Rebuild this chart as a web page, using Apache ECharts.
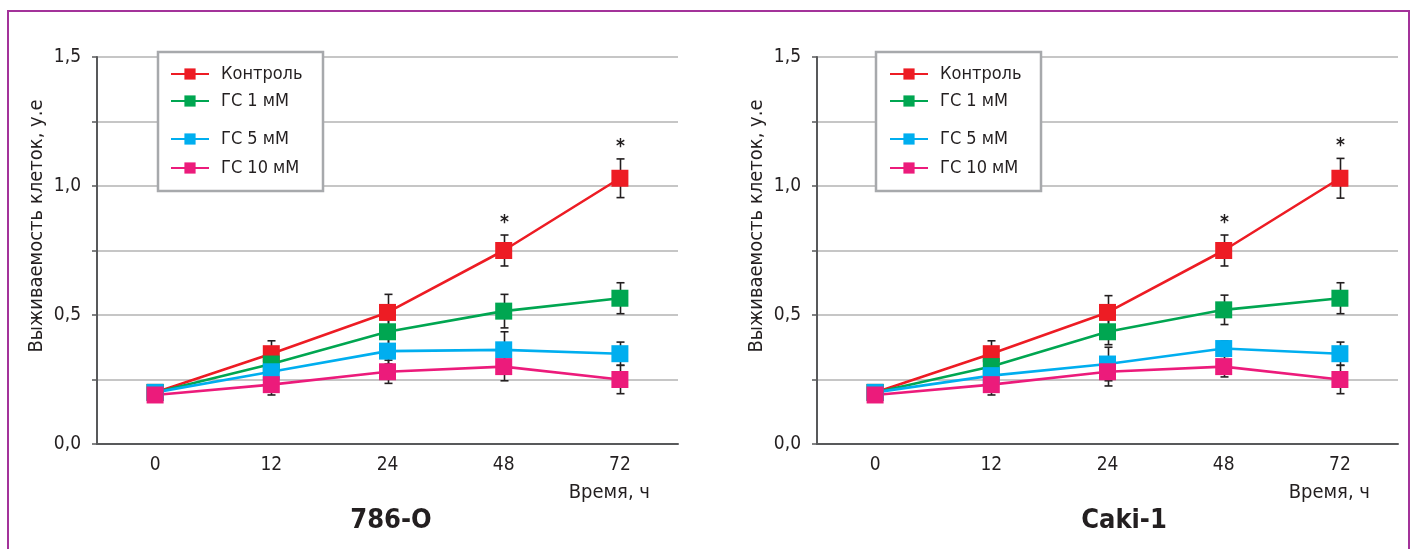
<!DOCTYPE html>
<html>
<head>
<meta charset="utf-8">
<script src="https://cdn.jsdelivr.net/npm/echarts@6/dist/echarts.min.js"></script>
<style>
  html, body { margin: 0; padding: 0; background: #fff; }
  #chart { width: 1413px; height: 549px; }
</style>
</head>
<body>
<div id="chart"></div>
<script>
  // категории по оси X (время, ч)
  const categories = ['0', '12', '24', '48', '72']
  const names = ['Контроль', 'ГС 1 мМ', 'ГС 5 мМ', 'ГС 10 мМ']
  const colors = ['#ed1c24', '#00a651', '#00aeef', '#ec1b7b']
  const stars = ['', '', '', '*', '*'] // достоверность для контроля

  // 786-O
  const ctrl786 = [0.2, 0.35, 0.51, 0.75, 1.03]
  const gs1_786 = [0.2, 0.31, 0.435, 0.515, 0.565]
  const gs5_786 = [0.2, 0.28, 0.36, 0.365, 0.35]
  const gs10_786 = [0.19, 0.23, 0.28, 0.30, 0.25]
  const ctrl786Err = [0, 0.05, 0.07, 0.06, 0.075]
  const gs1_786Err = [0, 0.03, 0.06, 0.065, 0.06]
  const gs5_786Err = [0, 0.02, 0.05, 0.07, 0.045]
  const gs10_786Err = [0, 0.04, 0.045, 0.055, 0.055]

  // Caki-1
  const ctrlCaki = [0.2, 0.35, 0.51, 0.75, 1.03]
  const gs1Caki = [0.2, 0.3, 0.435, 0.52, 0.565]
  const gs5Caki = [0.2, 0.265, 0.31, 0.37, 0.35]
  const gs10Caki = [0.19, 0.23, 0.28, 0.3, 0.25]
  const ctrlCakiErr = [0, 0.05, 0.065, 0.06, 0.077]
  const gs1CakiErr = [0, 0.03, 0.05, 0.057, 0.06]
  const gs5CakiErr = [0, 0.02, 0.065, 0.03, 0.045]
  const gs10CakiErr = [0, 0.04, 0.055, 0.04, 0.055]

  const FONT = "'Liberation Sans Narrow', 'DejaVu Sans Condensed', sans-serif"
  const TXT = '#231f20'

  function lineSeries (name, data, color, idx) {
    return {
      type: 'line',
      name: name,
      xAxisIndex: idx,
      yAxisIndex: idx,
      data: data,
      symbol: 'rect',
      symbolSize: 17,
      lineStyle: { width: 2.6, color: color },
      itemStyle: { color: color },
      z: 3,
      animation: false
    }
  }

  function errSeries (vals, errs, idx, withStars) {
    return {
      type: 'custom',
      xAxisIndex: idx,
      yAxisIndex: idx,
      silent: true,
      z: 2,
      animation: false,
      data: vals.map((v, i) => [i, v, errs[i]]),
      renderItem: function (params, api) {
        let i = api.value(0)
        let v = api.value(1)
        let e = api.value(2)
        let children = []
        if (e) {
          let top = api.coord([i, v + e])
          let bot = api.coord([i, v - e])
          let x = Math.round(top[0]) + 0.5
          let st = { stroke: '#231f20', lineWidth: 1.6 }
          children.push({ type: 'line', shape: { x1: x, y1: top[1], x2: x, y2: bot[1] }, style: st })
          children.push({ type: 'line', shape: { x1: x - 4, y1: top[1], x2: x + 4, y2: top[1] }, style: st })
          children.push({ type: 'line', shape: { x1: x - 4, y1: bot[1], x2: x + 4, y2: bot[1] }, style: st })
          if (withStars && stars[params.dataIndex]) {
            children.push({
              type: 'text',
              x: x,
              y: top[1] - 12,
              style: { text: stars[params.dataIndex], fill: TXT, font: 'bold 19px ' + FONT, textAlign: 'center', textVerticalAlign: 'middle' }
            })
          }
        }
        return { type: 'group', children: children }
      }
    }
  }

  function xAxis (idx) {
    return {
      type: 'category',
      gridIndex: idx,
      data: categories,
      boundaryGap: true,
      axisLine: { lineStyle: { color: '#58595b', width: 2 } },
      axisTick: { show: false },
      axisLabel: { color: TXT, fontSize: 19, fontFamily: FONT, margin: 12 }
    }
  }

  function yAxis (idx) {
    return {
      type: 'value',
      gridIndex: idx,
      min: 0,
      max: 1.5,
      interval: 0.25,
      axisLine: { show: true, lineStyle: { color: '#58595b', width: 2 } },
      axisTick: { show: true, length: 5, lineStyle: { color: '#58595b', width: 1.5 } },
      splitLine: { lineStyle: { color: '#b3b3b3', width: 1.5 } },
      axisLabel: {
        color: TXT,
        fontSize: 19,
        fontFamily: FONT,
        margin: 16,
        formatter: function (v) {
          return (v * 2) % 1 === 0 ? v.toFixed(1).replace('.', ',') : ''
        }
      }
    }
  }

  function legend (left, top, data, gap) {
    return {
      left: left,
      top: top,
      orient: 'vertical',
      data: data,
      padding: 0,
      itemGap: gap,
      itemWidth: 38,
      itemHeight: 14,
      selectedMode: false,
      textStyle: { color: TXT, fontSize: 18, fontFamily: FONT, lineHeight: 18, padding: [0, 0, 0, 7] }
    }
  }

  function texts (boxX, axisX, title, titleX) {
    return [
      {
        type: 'rect', z: 3,
        shape: { x: boxX, y: 52, width: 165, height: 139 },
        style: { fill: '#fff', stroke: '#a7a9ac', lineWidth: 2.5 }
      },
      {
        type: 'text', x: axisX - 60, y: 226, rotation: Math.PI / 2,
        style: { text: 'Выживаемость клеток, у.е', fill: TXT, font: '20px ' + FONT, textAlign: 'center', textVerticalAlign: 'middle' }
      },
      {
        type: 'text', x: axisX + 553, y: 493,
        style: { text: 'Время, ч', fill: TXT, font: '20px ' + FONT, textAlign: 'right', textVerticalAlign: 'middle' }
      },
      {
        type: 'text', x: titleX, y: 521,
        style: { text: title, fill: TXT, font: 'bold 27px ' + FONT, textAlign: 'center', textVerticalAlign: 'middle' }
      }
    ]
  }

  let chart = echarts.init(document.getElementById('chart'))
  chart.setOption({
    backgroundColor: '#fff',
    color: colors,
    animation: false,
    grid: [
      { left: 97, top: 57, width: 581, height: 387 },
      { left: 817, top: 57, width: 581, height: 387 }
    ],
    xAxis: [xAxis(0), xAxis(1)],
    yAxis: [yAxis(0), yAxis(1)],
    legend: [
      legend(170, 65, names.slice(0, 2), 9),
      legend(170, 130, names.slice(2), 11),
      legend(889, 65, names.slice(0, 2), 9),
      legend(889, 130, names.slice(2), 11)
    ],
    graphic: [
      {
        type: 'rect', z: 10,
        shape: { x: 8, y: 11, width: 1401, height: 560 },
        style: { fill: 'none', stroke: '#a3329a', lineWidth: 2 }
      }
    ].concat(texts(158, 97, '786-O', 391), texts(876, 817, 'Caki-1', 1124)),
    series: [
      errSeries(ctrl786, ctrl786Err, 0, true),
      errSeries(gs1_786, gs1_786Err, 0, false),
      errSeries(gs5_786, gs5_786Err, 0, false),
      errSeries(gs10_786, gs10_786Err, 0, false),
      lineSeries(names[0], ctrl786, colors[0], 0),
      lineSeries(names[1], gs1_786, colors[1], 0),
      lineSeries(names[2], gs5_786, colors[2], 0),
      lineSeries(names[3], gs10_786, colors[3], 0),
      errSeries(ctrlCaki, ctrlCakiErr, 1, true),
      errSeries(gs1Caki, gs1CakiErr, 1, false),
      errSeries(gs5Caki, gs5CakiErr, 1, false),
      errSeries(gs10Caki, gs10CakiErr, 1, false),
      lineSeries(names[0], ctrlCaki, colors[0], 1),
      lineSeries(names[1], gs1Caki, colors[1], 1),
      lineSeries(names[2], gs5Caki, colors[2], 1),
      lineSeries(names[3], gs10Caki, colors[3], 1)
    ]
  })
</script>
</body>
</html>
